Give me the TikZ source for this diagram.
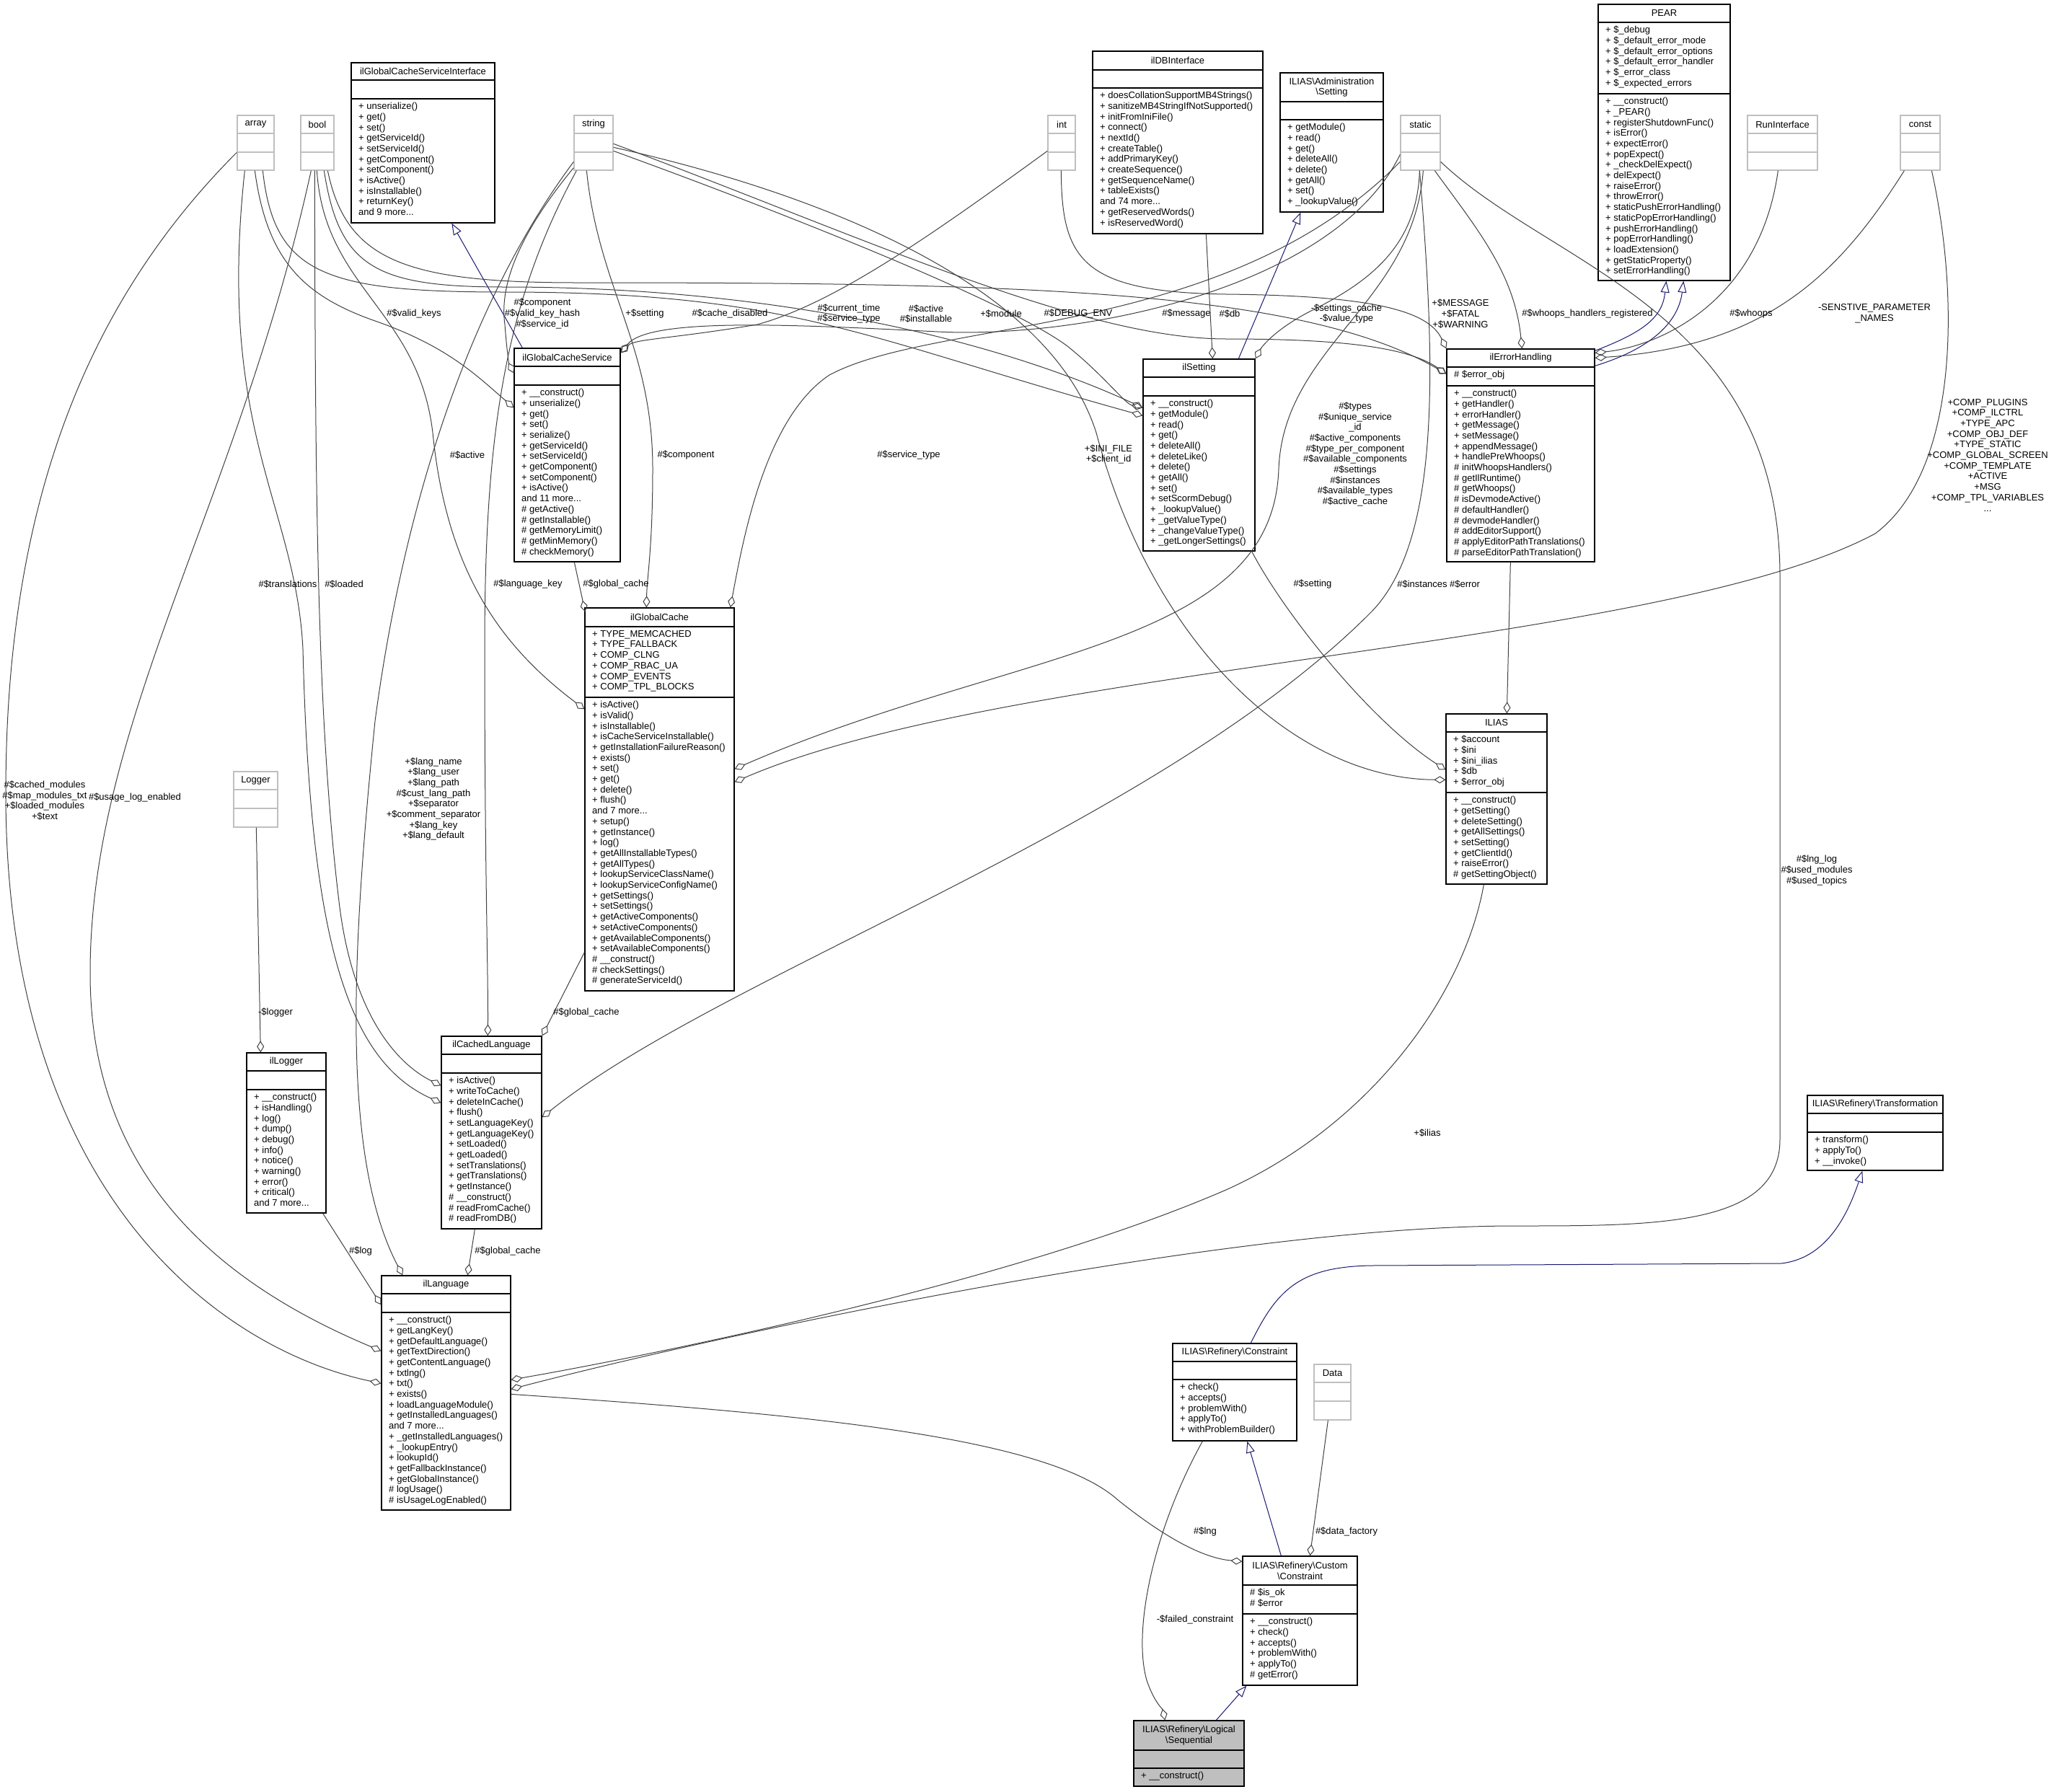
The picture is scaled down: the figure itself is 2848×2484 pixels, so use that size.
\documentclass[tikz,border=0pt]{standalone}
\usepackage{fontspec}
\setmainfont{Liberation Sans}
\usetikzlibrary{fit,calc,arrows.meta}
\definecolor{edgec}{HTML}{404040}
\definecolor{inhc}{HTML}{191970}
\definecolor{grayb}{HTML}{BFBFBF}
\newcommand\umlclass[9]{%
  \node[#8, fit={(#2,#3)(#4,#7)}] (#1) {};
  \draw[#8] (#2,#5) -- (#4,#5) (#2,#6) -- (#4,#6);
  \node[ttl] at ({(#2+#4)/2},{(#3+#5)/2}) {#9};
}
\newcommand\mems[3]{\node[mem] at (#1+10,#2+5) {#3};}
\tikzset{
  cbox/.style={draw=black, line width=1.3pt, inner sep=0pt},
  gbox/.style={draw=grayb, line width=1.3pt, inner sep=0pt},
  sbox/.style={draw=black, fill=grayb, line width=1.3pt, inner sep=0pt},
  ttl/.style={font=\fontsize{13}{14.7}\selectfont, align=center, inner sep=0pt},
  mem/.style={font=\fontsize{13}{14.7}\selectfont, align=left, inner sep=0pt, anchor=north west},
  lbl/.style={font=\fontsize{13}{14.7}\selectfont, align=center, inner sep=0pt},
  agg/.style={draw=edgec, line width=1pt, -{Diamond[open,length=16pt,width=10pt]}},
  inh/.style={draw=inhc, line width=1pt, -{Triangle[open,length=16pt,width=12pt]}},
}
\begin{document}
\begin{tikzpicture}[x=1pt,y=-1pt]
\useasboundingbox (0,0) rectangle (2848,2484);
% ---------- classes ----------
\umlclass{array}{329}{160}{380}{185}{211}{236}{gbox}{array}
\umlclass{bool}{417}{160}{463}{185}{211}{236}{gbox}{bool}
\umlclass{string}{796}{160}{850}{185}{211}{236}{gbox}{string}
\umlclass{int}{1453}{160}{1491}{185}{211}{236}{gbox}{int}
\umlclass{static}{1942}{160}{1997}{185}{211}{236}{gbox}{static}
\umlclass{runi}{2423}{160}{2520}{185}{211}{236}{gbox}{RunInterface}
\umlclass{const}{2635}{160}{2690}{185}{211}{236}{gbox}{const}
\umlclass{logger}{324}{1070}{385}{1095}{1121}{1147}{gbox}{Logger}
\umlclass{data}{1822}{1892}{1873}{1917}{1943}{1969}{gbox}{Data}

\umlclass{gcsi}{487}{87}{686}{111}{137}{309}{cbox}{ilGlobalCacheServiceInterface}
\mems{487}{137}{+ unserialize()\\+ get()\\+ set()\\+ getServiceId()\\+ setServiceId()\\+ getComponent()\\+ setComponent()\\+ isActive()\\+ isInstallable()\\+ returnKey()\\and 9 more...}

\umlclass{gcs}{713}{483}{860}{508}{534}{779}{cbox}{ilGlobalCacheService}
\mems{713}{534}{+ \_\_construct()\\+ unserialize()\\+ get()\\+ set()\\+ serialize()\\+ getServiceId()\\+ setServiceId()\\+ getComponent()\\+ setComponent()\\+ isActive()\\and 11 more...\\\# getActive()\\\# getInstallable()\\\# getMemoryLimit()\\\# getMinMemory()\\\# checkMemory()}

\umlclass{dbi}{1515}{71}{1751}{97}{122}{324}{cbox}{ilDBInterface}
\mems{1515}{122}{+ doesCollationSupportMB4Strings()\\+ sanitizeMB4StringIfNotSupported()\\+ initFromIniFile()\\+ connect()\\+ nextId()\\+ createTable()\\+ addPrimaryKey()\\+ createSequence()\\+ getSequenceName()\\+ tableExists()\\and 74 more...\\+ getReservedWords()\\+ isReservedWord()}

\umlclass{adms}{1775}{101}{1918}{141}{166}{294}{cbox}{ILIAS\textbackslash Administration\\\textbackslash Setting}
\mems{1775}{166}{+ getModule()\\+ read()\\+ get()\\+ deleteAll()\\+ delete()\\+ getAll()\\+ set()\\+ \_lookupValue()}

\umlclass{pear}{2216}{6}{2399}{31}{130}{389}{cbox}{PEAR}
\mems{2216}{31}{+ \$\_debug\\+ \$\_default\_error\_mode\\+ \$\_default\_error\_options\\+ \$\_default\_error\_handler\\+ \$\_error\_class\\+ \$\_expected\_errors}
\mems{2216}{130}{+ \_\_construct()\\+ \_PEAR()\\+ registerShutdownFunc()\\+ isError()\\+ expectError()\\+ popExpect()\\+ \_checkDelExpect()\\+ delExpect()\\+ raiseError()\\+ throwError()\\+ staticPushErrorHandling()\\+ staticPopErrorHandling()\\+ pushErrorHandling()\\+ popErrorHandling()\\+ loadExtension()\\+ getStaticProperty()\\+ setErrorHandling()}

\umlclass{ilsetting}{1585}{498}{1740}{523}{549}{764}{cbox}{ilSetting}
\mems{1585}{549}{+ \_\_construct()\\+ getModule()\\+ read()\\+ get()\\+ deleteAll()\\+ deleteLike()\\+ delete()\\+ getAll()\\+ set()\\+ setScormDebug()\\+ \_lookupValue()\\+ \_getValueType()\\+ \_changeValueType()\\+ \_getLongerSettings()}

\umlclass{ileh}{2006}{484}{2211}{509}{535}{779}{cbox}{ilErrorHandling}
\mems{2006}{509}{\# \$error\_obj}
\mems{2006}{535}{+ \_\_construct()\\+ getHandler()\\+ errorHandler()\\+ getMessage()\\+ setMessage()\\+ appendMessage()\\+ handlePreWhoops()\\\# initWhoopsHandlers()\\\# getIlRuntime()\\\# getWhoops()\\\# isDevmodeActive()\\\# defaultHandler()\\\# devmodeHandler()\\\# addEditorSupport()\\\# applyEditorPathTranslations()\\\# parseEditorPathTranslation()}

\umlclass{ilgc}{811}{843}{1018}{869}{967}{1374}{cbox}{ilGlobalCache}
\mems{811}{869}{+ TYPE\_MEMCACHED\\+ TYPE\_FALLBACK\\+ COMP\_CLNG\\+ COMP\_RBAC\_UA\\+ COMP\_EVENTS\\+ COMP\_TPL\_BLOCKS}
\mems{811}{967}{+ isActive()\\+ isValid()\\+ isInstallable()\\+ isCacheServiceInstallable()\\+ getInstallationFailureReason()\\+ exists()\\+ set()\\+ get()\\+ delete()\\+ flush()\\and 7 more...\\+ setup()\\+ getInstance()\\+ log()\\+ getAllInstallableTypes()\\+ getAllTypes()\\+ lookupServiceClassName()\\+ lookupServiceConfigName()\\+ getSettings()\\+ setSettings()\\+ getActiveComponents()\\+ setActiveComponents()\\+ getAvailableComponents()\\+ setAvailableComponents()\\\# \_\_construct()\\\# checkSettings()\\\# generateServiceId()}

\umlclass{ilias}{2005}{990}{2145}{1015}{1099}{1226}{cbox}{ILIAS}
\mems{2005}{1015}{+ \$account\\+ \$ini\\+ \$ini\_ilias\\+ \$db\\+ \$error\_obj}
\mems{2005}{1099}{+ \_\_construct()\\+ getSetting()\\+ deleteSetting()\\+ getAllSettings()\\+ setSetting()\\+ getClientId()\\+ raiseError()\\\# getSettingObject()}

\umlclass{ilcl}{612}{1437}{751}{1462}{1488}{1704}{cbox}{ilCachedLanguage}
\mems{612}{1488}{+ isActive()\\+ writeToCache()\\+ deleteInCache()\\+ flush()\\+ setLanguageKey()\\+ getLanguageKey()\\+ setLoaded()\\+ getLoaded()\\+ setTranslations()\\+ getTranslations()\\+ getInstance()\\\# \_\_construct()\\\# readFromCache()\\\# readFromDB()}

\umlclass{illogger}{342}{1460}{452}{1485}{1511}{1682}{cbox}{ilLogger}
\mems{342}{1511}{+ \_\_construct()\\+ isHandling()\\+ log()\\+ dump()\\+ debug()\\+ info()\\+ notice()\\+ warning()\\+ error()\\+ critical()\\and 7 more...}

\umlclass{illang}{529}{1769}{708}{1794}{1820}{2094}{cbox}{ilLanguage}
\mems{529}{1820}{+ \_\_construct()\\+ getLangKey()\\+ getDefaultLanguage()\\+ getTextDirection()\\+ getContentLanguage()\\+ txtlng()\\+ txt()\\+ exists()\\+ loadLanguageModule()\\+ getInstalledLanguages()\\and 7 more...\\+ \_getInstalledLanguages()\\+ \_lookupEntry()\\+ lookupId()\\+ getFallbackInstance()\\+ getGlobalInstance()\\\# logUsage()\\\# isUsageLogEnabled()}

\umlclass{transf}{2506}{1519}{2694}{1544}{1570}{1623}{cbox}{ILIAS\textbackslash Refinery\textbackslash Transformation}
\mems{2506}{1570}{+ transform()\\+ applyTo()\\+ \_\_invoke()}

\umlclass{constr}{1626}{1863}{1798}{1888}{1913}{1998}{cbox}{ILIAS\textbackslash Refinery\textbackslash Constraint}
\mems{1626}{1913}{+ check()\\+ accepts()\\+ problemWith()\\+ applyTo()\\+ withProblemBuilder()}

\umlclass{cc}{1723}{2158}{1882}{2198}{2238}{2337}{cbox}{ILIAS\textbackslash Refinery\textbackslash Custom\\\textbackslash Constraint}
\mems{1723}{2198}{\# \$is\_ok\\\# \$error}
\mems{1723}{2238}{+ \_\_construct()\\+ check()\\+ accepts()\\+ problemWith()\\+ applyTo()\\\# getError()}

\umlclass{seq}{1572}{2386}{1725}{2427}{2452}{2477}{sbox}{ILIAS\textbackslash Refinery\textbackslash Logical\\\textbackslash Sequential}
\mems{1572}{2452}{+ \_\_construct()}

% ---------- connectors ----------
% inheritance
\draw[inh] ($(gcs.north west)+(12,0)$) -- ($(gcsi.south west)+(140,0)$);
\draw[inh] ($(ilsetting.north west)+(133,0)$) -- ($(adms.south west)+(29,0)$);
\draw[inh] ($(ileh.north east)+(0,3)$) .. controls (2280,460) and (2305,440) .. ($(pear.south west)+(95,0)$);
\draw[inh] ($(ileh.north east)+(0,24)$) .. controls (2300,480) and (2328,440) .. ($(pear.south west)+(119,0)$);
\draw[inh] ($(constr.north west)+(109,0)$) .. controls (1770,1790) and (1800,1757) .. (1900,1755) -- (2470,1752) .. controls (2530,1745) and (2560,1690) .. ($(transf.south west)+(77,0)$);
\draw[inh] ($(cc.north west)+(54,0)$) -- ($(constr.south west)+(104,0)$);
\draw[inh] ($(seq.north west)+(115,0)$) -- ($(cc.south west)+(6,0)$);

% aggregations
\draw[agg] ($(array.north west)+(0,52)$) .. controls (120,420) and (8,700) .. (8,1100) .. controls (8,1650) and (300,1870) .. ($(illang.north west)+(0,150)$);
\draw[agg] ($(bool.south west)+(15,0)$) .. controls (330,700) and (125,1000) .. (125,1350) .. controls (125,1650) and (330,1790) .. ($(illang.north west)+(0,105)$);
\draw[agg] ($(array.south west)+(11,0)$) .. controls (300,600) and (410,700) .. (420,900) .. controls (430,1300) and (480,1470) .. ($(ilcl.north west)+(0,93)$);
\draw[agg] ($(bool.south west)+(20,0)$) .. controls (437,700) and (440,1000) .. (470,1250) .. controls (490,1420) and (560,1480) .. ($(ilcl.north west)+(0,69)$);
\draw[agg] ($(string.north west)+(0,65)$) .. controls (650,420) and (560,700) .. (520,1000) .. controls (490,1300) and (470,1600) .. ($(illang.north west)+(30,0)$);
\draw[agg] ($(string.south west)+(4,0)$) .. controls (700,420) and (672,600) .. (672,900) .. controls (672,1200) and (677,1350) .. ($(ilcl.north west)+(65,0)$);
\draw[agg] ($(array.south west)+(25,0)$) .. controls (370,360) and (420,410) .. (520,445) .. controls (620,480) and (660,520) .. ($(gcs.north west)+(0,83)$);
\draw[agg] ($(string.south west)+(0,-4)$) .. controls (740,300) and (690,380) .. (700,450) .. controls (703,490) and (706,505) .. ($(gcs.north west)+(0,35)$);
\draw[agg] ($(int.north west)+(0,50)$) .. controls (1300,320) and (1160,420) .. (1050,450) .. controls (930,470) and (880,470) .. ($(gcs.north east)+(0,7)$);
\draw[agg] ($(static.north west)+(0,55)$) .. controls (1850,400) and (1500,470) .. (1300,460) .. controls (1100,450) and (900,440) .. ($(gcs.north east)+(0,7)$);
\draw[agg] ($(gcs.south west)+(84,0)$) -- ($(ilgc.north west)+(1,6)$);
\draw[agg] ($(string.south west)+(18,0)$) .. controls (830,400) and (905,480) .. (905,650) .. controls (905,760) and (897,800) .. ($(ilgc.north west)+(86,0)$);
\draw[agg] ($(bool.south west)+(23,0)$) .. controls (450,400) and (580,430) .. (600,600) .. controls (620,800) and (700,900) .. ($(ilgc.north west)+(0,141)$);
\draw[agg] ($(static.north west)+(0,65)$) .. controls (1700,470) and (1300,440) .. (1150,520) .. controls (1060,580) and (1030,750) .. ($(ilgc.north east)+(-6,0)$);
\draw[agg] ($(static.south west)+(32,0)$) .. controls (1960,420) and (1780,480) .. (1773,650) .. controls (1765,900) and (1400,900) .. ($(ilgc.north east)+(0,224)$);
\draw[agg] ($(const.south west)+(44,0)$) .. controls (2715,400) and (2720,650) .. (2600,740) .. controls (2300,900) and (1400,920) .. ($(ilgc.north east)+(0,242)$);
\draw[agg] ($(static.south west)+(27,0)$) .. controls (1990,500) and (2000,750) .. (1900,850) .. controls (1600,1150) and (1000,1350) .. ($(ilcl.north east)+(0,113)$);
\draw[agg] ($(string.north east)+(0,45)$) .. controls (1100,260) and (1450,380) .. (1520,600) .. controls (1600,900) and (1800,1080) .. ($(ilias.north west)+(0,92)$);
\draw[agg] ($(ilsetting.south east)+(-5,0)$) .. controls (1780,850) and (1900,1000) .. ($(ilias.north west)+(0,78)$);
\draw[agg] ($(ileh.south west)+(89,0)$) -- ($(ilias.north west)+(85,0)$);
\draw[agg] ($(ilias.south west)+(53,0)$) .. controls (2030,1380) and (1900,1560) .. (1700,1650) .. controls (1400,1780) and (900,1880) .. ($(illang.north east)+(0,145)$);
\draw[agg] ($(static.north east)+(0,65)$) .. controls (2150,370) and (2468,430) .. (2468,800) -- (2468,1580) .. controls (2468,1700) and (2300,1700) .. (2100,1700) .. controls (1700,1700) and (1000,1850) .. ($(illang.north east)+(0,158)$);
\draw[agg] ($(illang.north east)+(0,165)$) .. controls (1100,1960) and (1450,1990) .. (1550,2080) .. controls (1600,2120) and (1660,2160) .. ($(cc.north west)+(0,8)$);
\draw[agg] ($(logger.south west)+(32,0)$) -- ($(illogger.north west)+(20,0)$);
\draw[agg] ($(illogger.south east)+(-5,0)$) -- ($(illang.north west)+(0,41)$);
\draw[agg] ($(ilcl.south west)+(47,0)$) -- ($(illang.north west)+(120,0)$);
\draw[agg] ($(ilgc.south west)+(0,-54)$) -- ($(ilcl.north east)+(0,0)$);
\draw[agg] ($(dbi.south west)+(158,0)$) -- ($(ilsetting.north west)+(97,0)$);
\draw[agg] ($(static.south west)+(27,0)$) .. controls (1965,340) and (1900,390) .. (1820,430) .. controls (1770,455) and (1750,480) .. (ilsetting.north east);
\draw[agg] ($(string.north east)+(0,50)$) .. controls (1100,300) and (1400,420) .. (1480,480) .. controls (1530,520) and (1560,560) .. ($(ilsetting.north west)+(0,68)$);
\draw[agg] ($(array.south west)+(36,0)$) .. controls (380,380) and (450,405) .. (700,405) .. controls (1100,405) and (1200,470) .. ($(ilsetting.north west)+(0,79)$);
\draw[agg] ($(bool.south west)+(33,0)$) .. controls (470,370) and (520,398) .. (700,398) .. controls (1100,398) and (1400,480) .. ($(ilsetting.north west)+(0,68)$);
\draw[agg] ($(bool.south west)+(38,0)$) .. controls (480,360) and (560,392) .. (800,392) .. controls (1400,392) and (1800,400) .. ($(ileh.north west)+(0,35)$);
\draw[agg] ($(string.north east)+(0,40)$) .. controls (1200,330) and (1500,470) .. (1700,470) .. controls (1850,470) and (1950,480) .. ($(ileh.north west)+(0,35)$);
\draw[agg] ($(int.south west)+(19,0)$) .. controls (1472,360) and (1500,405) .. (1700,408) .. controls (1900,410) and (1980,430) .. (ileh.north west);
\draw[agg] ($(static.south west)+(48,0)$) .. controls (2050,320) and (2100,380) .. ($(ileh.north west)+(105,0)$);
\draw[agg] ($(runi.south west)+(43,0)$) .. controls (2440,420) and (2300,480) .. ($(ileh.north east)+(0,6)$);
\draw[agg] ($(const.south west)+(6,0)$) .. controls (2550,380) and (2450,480) .. ($(ileh.north east)+(0,13)$);
\draw[agg] ($(constr.south west)+(42,0)$) .. controls (1600,2120) and (1570,2260) .. (1590,2330) .. controls (1600,2360) and (1612,2370) .. ($(seq.north west)+(44,0)$);
\draw[agg] ($(data.south west)+(20,0)$) -- ($(cc.north west)+(94,0)$);

% ---------- labels ----------
\node[lbl] (l1) at (62,1110) {\#\$cached\_modules\\\#\$map\_modules\_txt\\+\$loaded\_modules\\+\$text};
\node[lbl] (l2) at (187,1106) {\#\$usage\_log\_enabled};
\node[lbl] (l3) at (399,810) {\#\$translations};
\node[lbl] (l4) at (477,810) {\#\$loaded};
\node[lbl] (l5) at (601,1108) {+\$lang\_name\\+\$lang\_user\\+\$lang\_path\\\#\$cust\_lang\_path\\+\$separator\\+\$comment\_separator\\+\$lang\_key\\+\$lang\_default};
\node[lbl] (l6) at (732,810) {\#\$language\_key};
\node[lbl] (l7) at (854,810) {\#\$global\_cache};
\node[lbl] (l8) at (574,435) {\#\$valid\_keys};
\node[lbl] (l9) at (752,435) {\#\$component\\\#\$valid\_key\_hash\\\#\$service\_id};
\node[lbl] (l10) at (894,435) {+\$setting};
\node[lbl] (l11) at (1012,435) {\#\$cache\_disabled};
\node[lbl] (l12) at (1177,435) {\#\$current\_time\\\#\$service\_type};
\node[lbl] (l13) at (1284,435) {\#\$active\\\#\$installable};
\node[lbl] (l14) at (1388,435) {+\$module};
\node[lbl] (l15) at (1495,435) {\#\$DEBUG\_ENV};
\node[lbl] (l16) at (1645,435) {\#\$message};
\node[lbl] (l17) at (1705,435) {\#\$db};
\node[lbl] (l18) at (1867,435) {-\$settings\_cache\\-\$value\_type};
\node[lbl] (l19) at (2025,435) {+\$MESSAGE\\+\$FATAL\\+\$WARNING};
\node[lbl] (l20) at (2201,435) {\#\$whoops\_handlers\_registered};
\node[lbl] (l21) at (2428,435) {\#\$whoops};
\node[lbl] (l22) at (2599,435) {-SENSTIVE\_PARAMETER\\\_NAMES};
\node[lbl] (l23) at (2756,631) {+COMP\_PLUGINS\\+COMP\_ILCTRL\\+TYPE\_APC\\+COMP\_OBJ\_DEF\\+TYPE\_STATIC\\+COMP\_GLOBAL\_SCREEN\\+COMP\_TEMPLATE\\+ACTIVE\\+MSG\\+COMP\_TPL\_VARIABLES\\...};
\node[lbl] (l24) at (648,631) {\#\$active};
\node[lbl] (l25) at (951,631) {\#\$component};
\node[lbl] (l26) at (1260,631) {\#\$service\_type};
\node[lbl] (l27) at (1537,630) {+\$INI\_FILE\\+\$client\_id};
\node[lbl] (l28) at (1879,630) {\#\$types\\\#\$unique\_service\\\_id\\\#\$active\_components\\\#\$type\_per\_component\\\#\$available\_components\\\#\$settings\\\#\$instances\\\#\$available\_types\\\#\$active\_cache};
\node[lbl] (l29) at (1820,810) {\#\$setting};
\node[lbl] (l30) at (1972,810) {\#\$instances};
\node[lbl] (l31) at (2031,810) {\#\$error};
\node[lbl] (l32) at (2519,1207) {\#\$lng\_log\\\#\$used\_modules\\\#\$used\_topics};
\node[lbl] (l33) at (382,1404) {-\$logger};
\node[lbl] (l34) at (813,1404) {\#\$global\_cache};
\node[lbl] (l35) at (500,1735) {\#\$log};
\node[lbl] (l36) at (704,1735) {\#\$global\_cache};
\node[lbl] (l37) at (1979,1571) {+\$ilias};
\node[lbl] (l38) at (1671,2124) {\#\$lng};
\node[lbl] (l39) at (1867,2124) {\#\$data\_factory};
\node[lbl] (l40) at (1657,2246) {-\$failed\_constraint};
\end{tikzpicture}
\end{document}
